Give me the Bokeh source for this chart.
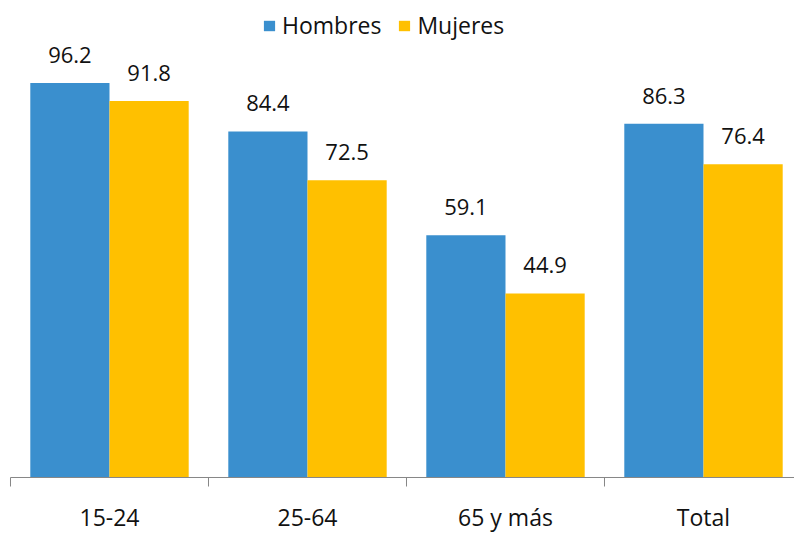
from bokeh.plotting import figure
from bokeh.models import ColumnDataSource, Range1d, Legend, LegendItem
from bokeh.transform import dodge
from bokeh.core.properties import value
from bokeh.embed import file_html
from bokeh.resources import INLINE

categories = ["15-24", "25-64", "65 y más", "Total"]
hombres = [96.2, 84.4, 59.1, 86.3]
mujeres = [91.8, 72.5, 44.9, 76.4]
series_names = ["Hombres", "Mujeres"]

BLUE = "#3A8FCE"
YELLOW = "#FFC000"
AXIS = "#868686"
TEXT = "#111111"
FONT = "Open Sans"

n = len(categories)
xs = [i + 0.5 for i in range(n)]
bounds = list(range(n + 1))
src = ColumnDataSource(dict(
    x=xs, cat=categories, h=hombres, m=mujeres,
    hl=[f"{v:.1f}" for v in hombres], ml=[f"{v:.1f}" for v in mujeres],
    zero=[0] * n,
))

p = figure(width=794, height=533, output_backend="svg", toolbar_location=None,
           x_range=Range1d(-0.0505, 3.9596), y_range=Range1d(-13.66, 116.34),
           min_border_left=0, min_border_right=0, min_border_top=0,
           min_border_bottom=0)
p.outline_line_color = None
p.xgrid.visible = False
p.ygrid.visible = False
p.xaxis.visible = False
p.yaxis.visible = False
p.background_fill_color = "white"
p.border_fill_color = "white"

rh = p.vbar(x=dodge("x", -0.2, range=p.x_range), top="h", width=0.4, source=src,
            fill_color=BLUE, line_color=None)
rm = p.vbar(x=dodge("x", 0.2, range=p.x_range), top="m", width=0.4, source=src,
            fill_color=YELLOW, line_color=None)

# category axis: baseline and boundary ticks
p.segment(x0=[bounds[0]], y0=[0], x1=[bounds[-1]], y1=[0], line_color=AXIS, line_width=1)
p.segment(x0=bounds, y0=[0] * len(bounds), x1=bounds, y1=[-2.2] * len(bounds),
          line_color=AXIS, line_width=1)
p.text(x="x", y="zero", text="cat", source=src, text_font=value(FONT),
       text_font_size="23px", text_color=TEXT, text_align="center",
       text_baseline="alphabetic", y_offset=40)

p.text(x=dodge("x", -0.2, range=p.x_range), y="h", text="hl", source=src,
       text_font=value(FONT), text_font_size="22px", text_color=TEXT,
       text_align="center", text_baseline="alphabetic", y_offset=-28)
p.text(x=dodge("x", 0.2, range=p.x_range), y="m", text="ml", source=src,
       text_font=value(FONT), text_font_size="22px", text_color=TEXT,
       text_align="center", text_baseline="alphabetic", y_offset=-28)

legend = Legend(items=[LegendItem(label=series_names[0], renderers=[rh]),
                       LegendItem(label=series_names[1], renderers=[rm])],
                orientation="horizontal", location=(262, 492),
                label_text_font=FONT, label_text_font_size="23px",
                label_text_color=TEXT,
                glyph_width=14, glyph_height=13, label_standoff=6, spacing=16,
                padding=0, margin=0, border_line_color=None,
                background_fill_alpha=0)
p.add_layout(legend)

open("out.html", "w").write(file_html(p, INLINE))
